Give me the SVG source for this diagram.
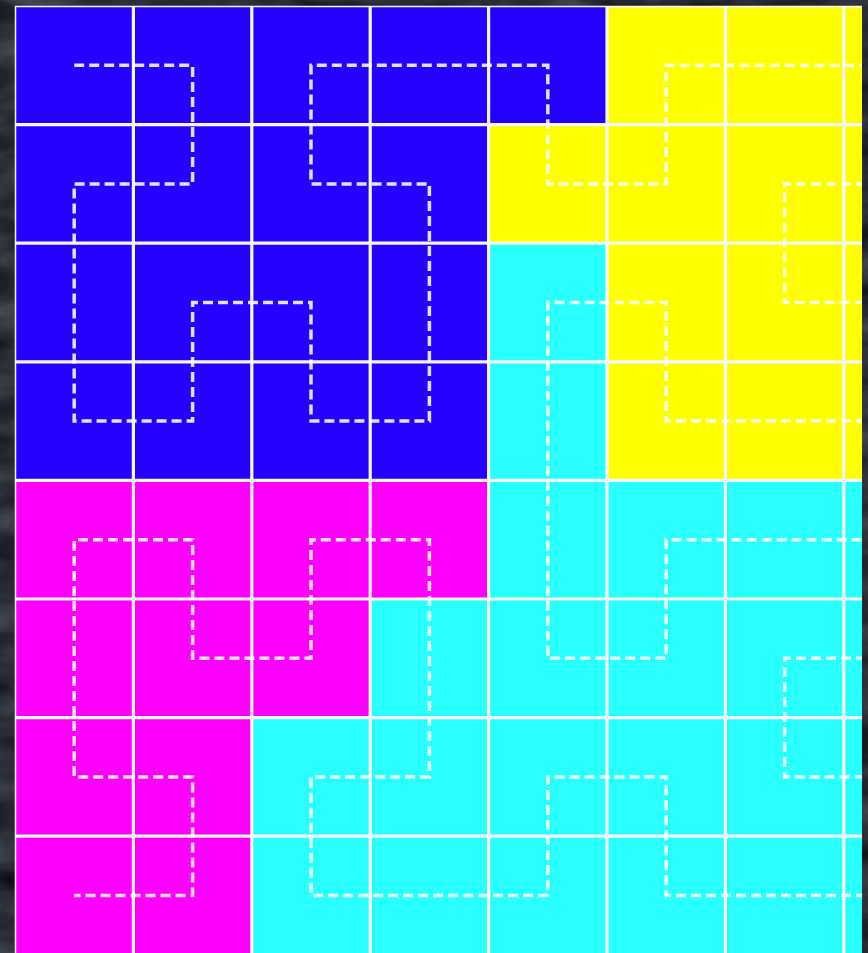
<svg xmlns="http://www.w3.org/2000/svg" width="868" height="953" viewBox="0 0 868 953">
  <defs>
    <filter id="marble" x="0" y="0" width="100%" height="100%" color-interpolation-filters="sRGB">
      <feTurbulence type="fractalNoise" baseFrequency="0.012 0.03" numOctaves="4" seed="7" result="n"/>
      <feColorMatrix in="n" type="matrix" values="0 0 0 0.34 0.0  0 0 0 0.34 0.01  0 0 0 0.38 0.02  0 0 0 0 1"/>
    </filter>
    <clipPath id="area"><rect x="15" y="6" width="847" height="947"/></clipPath>
  </defs>
  <style>
    .grid { stroke: #f8f6ff; stroke-width: 3.2; fill: none; }
    .edge { stroke: #f8f6ff; stroke-width: 1.5; fill: none; }
    .curve { stroke: #ffffff; stroke-opacity: 0.88; stroke-width: 3.5; fill: none; stroke-dasharray: 10 5; stroke-linejoin: miter; }
  </style>
  <rect id="background" x="0" y="0" width="868" height="953" fill="#2b2e35"/>
  <rect x="0" y="0" width="868" height="953" filter="url(#marble)"/>
  <g id="regions">
    <polygon id="blue" fill="#2400ff" points="15,6 607,6 607,124.6 488.6,124.6 488.6,480.4 15,480.4"/>
    <polygon id="yellow" fill="#ffff00" points="607,6 862,6 862,480.4 607,480.4 607,243.2 488.6,243.2 488.6,124.6 607,124.6"/>
    <polygon id="cyan" fill="#29ffff" points="488.6,243.2 607,243.2 607,480.4 862,480.4 862,953 251.8,953 251.8,717.6 370.2,717.6 370.2,599 488.6,599"/>
    <polygon id="magenta" fill="#ff00ff" points="15,480.4 488.6,480.4 488.6,599 370.2,599 370.2,717.6 251.8,717.6 251.8,953 15,953"/>
  </g>
  <g id="gridlines">
    <path class="grid" d="M133.4,6V953M251.8,6V953M370.2,6V953M488.6,6V953M607,6V953M725.4,6V953M843.8,6V953"/>
    <path class="grid" d="M15,124.6H862M15,243.2H862M15,361.8H862M15,480.4H862M15,599H862M15,717.6H862M15,836.2H862"/>
    <path class="edge" d="M15.5,953V6.5H862"/>
  </g>
  <g id="connectors" clip-path="url(#area)">
    <path class="curve" d="M74.2,65.3H192.6V183.9H74.2V421.1H192.6V302.5H311V421.1H429.4V183.9H311V65.3H547.8V183.9H666.2V65.3H866"/>
    <path class="curve" d="M866,183.9H784.6V302.5H866"/>
    <path class="curve" d="M866,421.1H666.2V302.5H547.8V658.3H666.2V539.7H866"/>
    <path class="curve" d="M866,658.3H784.6V776.9H866"/>
    <path class="curve" d="M866,895.5H666.2V776.9H547.8V895.5H311V776.9H429.4V539.7H311V658.3H192.6V539.7H74.2V776.9H192.6V895.5H74.2"/>
  </g>
</svg>
